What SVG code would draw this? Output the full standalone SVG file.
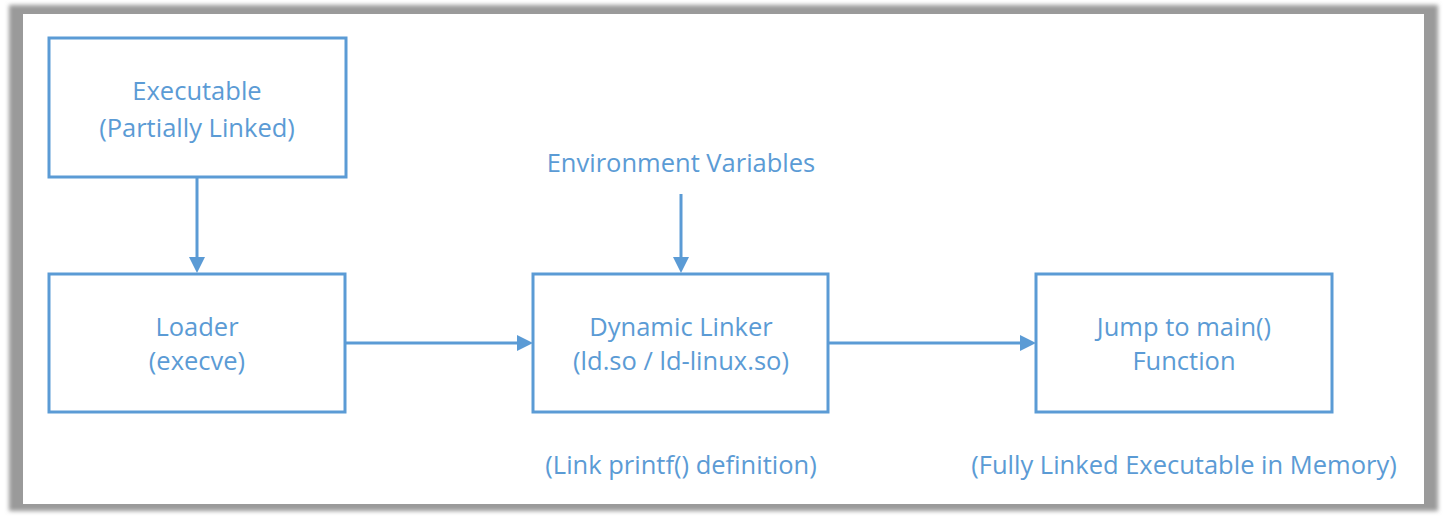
<svg xmlns="http://www.w3.org/2000/svg" width="1447" height="518" viewBox="0 0 1447 518">
<style>
.box{fill:#fff;stroke:#5b9bd5;stroke-width:3}
.t{font-family:"Open Sans","Liberation Sans",sans-serif;font-size:25.5px;fill:#5b9bd5;text-anchor:middle}
.c{stroke:#5b9bd5;stroke-width:3;fill:none}
</style>
<defs>
<filter id="blur" x="-5%" y="-5%" width="110%" height="110%"><feGaussianBlur stdDeviation="2"/></filter>
</defs>
<rect x="0" y="0" width="1447" height="518" fill="#fff"/>
<rect x="9" y="5" width="1429" height="506" fill="#9a9a9a" filter="url(#blur)"/>
<rect x="23" y="14" width="1401" height="490" fill="#fff"/>
<g id="connectors">
<line class="c" x1="197" y1="177" x2="197" y2="257"/>
<path d="M189,257 L205,257 L197,273 z" fill="#5b9bd5"/>
<line class="c" x1="346" y1="343" x2="517" y2="343"/>
<path d="M517,335 L517,351 L533,343 z" fill="#5b9bd5"/>
<line class="c" x1="681" y1="194" x2="681" y2="257"/>
<path d="M673,257 L689,257 L681,273 z" fill="#5b9bd5"/>
<line class="c" x1="828" y1="343" x2="1020" y2="343"/>
<path d="M1020,335 L1020,351 L1036,343 z" fill="#5b9bd5"/>
</g>
<g id="executable">
<rect class="box" x="49" y="38" width="297" height="139"/>
<text class="t" x="197" y="100">Executable</text>
<text class="t" x="197" y="137">(Partially Linked)</text>
</g>
<g id="loader">
<rect class="box" x="49" y="274" width="296" height="138"/>
<text class="t" x="197" y="336">Loader</text>
<text class="t" x="197" y="370">(execve)</text>
</g>
<g id="env">
<text class="t" x="681" y="172">Environment Variables</text>
</g>
<g id="dynlinker">
<rect class="box" x="533" y="274" width="295" height="138"/>
<text class="t" x="681" y="336">Dynamic Linker</text>
<text class="t" x="681" y="370">(ld.so / ld-linux.so)</text>
</g>
<g id="jump">
<rect class="box" x="1036" y="274" width="296" height="138"/>
<text class="t" x="1184" y="336">Jump to main()</text>
<text class="t" x="1184" y="370">Function</text>
</g>
<g id="note1">
<text class="t" x="681" y="474">(Link printf() definition)</text>
</g>
<g id="note2">
<text class="t" x="1184" y="474">(Fully Linked Executable in Memory)</text>
</g>
</svg>
